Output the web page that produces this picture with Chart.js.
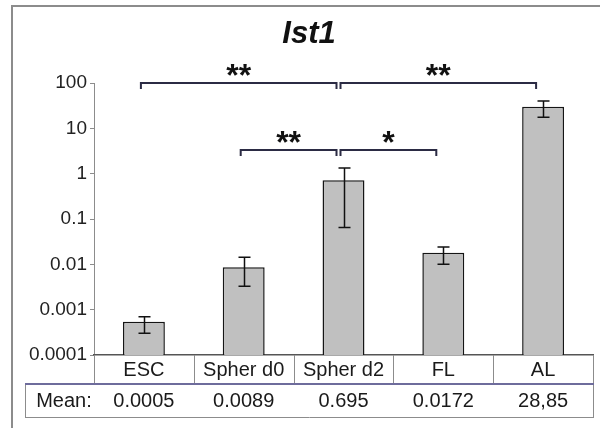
<!DOCTYPE html>
<html lang="en">
<head>
    <meta charset="UTF-8">
    <title>Ist1</title>
    <script src="https://cdn.jsdelivr.net/npm/chart.js"></script>
    <style>
        html, body {
            margin: 0;
            padding: 0;
            background: #ffffff;
        }
        .chart-box {
            width: 600px;
            height: 428px;
        }
    </style>
</head>
<body>
    <div class="chart-box">
        <canvas id="ist1Chart"></canvas>
    </div>

    <script>
        // Дані
        const chartTitle = 'Ist1';
        const categories = ['ESC', 'Spher d0', 'Spher d2', 'FL', 'AL'];
        const barValues = [0.00054, 0.0086, 0.72, 0.018, 30];
        const errLow = [0.0003, 0.0033, 0.065, 0.010, 17.5];
        const errHigh = [0.0007, 0.0143, 1.33, 0.024, 40];
        const meanLabels = ['0.0005', '0.0089', '0.695', '0.0172', '28,85'];
        const yTickValues = [0.0001, 0.001, 0.01, 0.1, 1, 10, 100];
        const yTickLabels = ['0.0001', '0.001', '0.01', '0.1', '1', '10', '100'];
        const bracketFrom = [0, 2, 1, 2];
        const bracketTo = [2, 4, 2, 3];
        const bracketLevel = [100, 100, 3.3, 3.3];
        const bracketStars = ['**', '**', '**', '*'];

        const FONT = "'Liberation Sans', Arial, sans-serif";

        // рамка, заголовок, таблиця під віссю, похибки та дужки значущості
        const extrasPlugin = {
            id: 'extras',
            beforeDraw(chart) {
                const ctx = chart.ctx;
                ctx.save();
                ctx.fillStyle = '#ffffff';
                ctx.fillRect(0, 0, chart.width, chart.height);
                ctx.strokeStyle = '#8c8c8c';
                ctx.lineWidth = 2;
                ctx.strokeRect(12, 6, chart.width + 20, chart.height + 20);

                ctx.fillStyle = '#111';
                ctx.font = 'italic bold 31px ' + FONT;
                ctx.textAlign = 'center';
                ctx.textBaseline = 'alphabetic';
                ctx.fillText(chartTitle, 309, 43);
                ctx.restore();
            },
            afterDatasetsDraw(chart) {
                const ctx = chart.ctx;
                const x = chart.scales.x;
                const y = chart.scales.y;
                const area = chart.chartArea;
                const step = (area.right - area.left) / categories.length;

                ctx.save();

                // похибки
                ctx.strokeStyle = '#111';
                ctx.lineWidth = 1.5;
                categories.forEach((c, i) => {
                    const cx = Math.round(x.getPixelForValue(i)) + 0.5;
                    const yLo = y.getPixelForValue(errLow[i]);
                    const yHi = y.getPixelForValue(errHigh[i]);
                    ctx.beginPath();
                    ctx.moveTo(cx, yLo);
                    ctx.lineTo(cx, yHi);
                    ctx.moveTo(cx - 6, yLo);
                    ctx.lineTo(cx + 6, yLo);
                    ctx.moveTo(cx - 6, yHi);
                    ctx.lineTo(cx + 6, yHi);
                    ctx.stroke();
                });

                // дужки
                ctx.strokeStyle = '#2b2b44';
                ctx.lineWidth = 2;
                ctx.fillStyle = '#111';
                ctx.font = 'bold 32px ' + FONT;
                ctx.textAlign = 'center';
                ctx.textBaseline = 'alphabetic';
                bracketFrom.forEach((f, i) => {
                    const x1 = x.getPixelForValue(f) - 3;
                    const x2 = x.getPixelForValue(bracketTo[i]) - 7;
                    const by = Math.round(y.getPixelForValue(bracketLevel[i]));
                    ctx.beginPath();
                    ctx.moveTo(x1, by + 6);
                    ctx.lineTo(x1, by);
                    ctx.lineTo(x2, by);
                    ctx.lineTo(x2, by + 6);
                    ctx.stroke();
                    ctx.fillText(bracketStars[i], (x1 + x2) / 2, by + 3);
                });

                // таблиця
                const top = area.bottom;
                const row1 = top + 29;
                const row2 = row1 + 33;
                ctx.strokeStyle = '#8c8c8c';
                ctx.lineWidth = 1;
                for (let i = 0; i <= categories.length; i++) {
                    const bx = Math.round(area.left + i * step) + 0.5;
                    ctx.beginPath();
                    ctx.moveTo(bx, top);
                    ctx.lineTo(bx, row1);
                    ctx.stroke();
                }
                ctx.beginPath();
                ctx.moveTo(Math.round(area.right) + 0.5, row1);
                ctx.lineTo(Math.round(area.right) + 0.5, row2);
                ctx.moveTo(25.5, row1);
                ctx.lineTo(25.5, row2);
                ctx.moveTo(25, row2 + 0.5);
                ctx.lineTo(area.right + 1, row2 + 0.5);
                ctx.stroke();

                ctx.strokeStyle = '#6e6c9c';
                ctx.lineWidth = 2;
                ctx.beginPath();
                ctx.moveTo(25, row1);
                ctx.lineTo(area.right + 1, row1);
                ctx.stroke();

                ctx.fillStyle = '#1a1a1a';
                ctx.font = '20px ' + FONT;
                ctx.textBaseline = 'middle';
                ctx.fillText('Mean:', 64, (row1 + row2) / 2 + 1);
                meanLabels.forEach((m, i) => {
                    ctx.fillText(m, x.getPixelForValue(i), (row1 + row2) / 2 + 1);
                });

                ctx.restore();
            }
        };

        const ctx = document.getElementById('ist1Chart').getContext('2d');
        const ist1Chart = new Chart(ctx, {
            type: 'bar',
            data: {
                labels: categories,
                datasets: [{
                    label: chartTitle,
                    data: barValues,
                    backgroundColor: '#c0c0c0',
                    borderColor: '#151515',
                    borderWidth: 1.5,
                    categoryPercentage: 1,
                    barPercentage: 0.42
                }]
            },
            options: {
                responsive: true,
                maintainAspectRatio: false,
                animation: false,
                layout: {
                    padding: { left: 0, right: 7, top: 83, bottom: 0 }
                },
                scales: {
                    y: {
                        type: 'logarithmic',
                        min: 0.0001,
                        max: 100,
                        afterFit: function(scale) {
                            scale.width = 94;
                        },
                        afterBuildTicks: function(scale) {
                            scale.ticks = yTickValues.map(v => ({ value: v }));
                        },
                        ticks: {
                            padding: 3,
                            color: '#222',
                            font: { family: FONT, size: 19 },
                            callback: function(value) {
                                const i = yTickValues.indexOf(value);
                                return i >= 0 ? yTickLabels[i] : '';
                            }
                        },
                        grid: {
                            display: true,
                            drawOnChartArea: false,
                            drawTicks: true,
                            tickLength: 4,
                            color: '#8c8c8c'
                        },
                        border: {
                            display: true,
                            color: '#8c8c8c',
                            width: 1
                        }
                    },
                    x: {
                        afterFit: function(scale) {
                            scale.height = 73;
                        },
                        ticks: {
                            padding: 3,
                            color: '#1a1a1a',
                            maxRotation: 0,
                            autoSkip: false,
                            font: { family: FONT, size: 20 }
                        },
                        grid: {
                            display: false,
                            drawTicks: false,
                            tickLength: 0
                        },
                        border: {
                            display: true,
                            color: '#555',
                            width: 1.5
                        }
                    }
                },
                plugins: {
                    legend: { display: false },
                    tooltip: { enabled: false },
                    title: { display: false }
                }
            },
            plugins: [extrasPlugin]
        });
    </script>
</body>
</html>
